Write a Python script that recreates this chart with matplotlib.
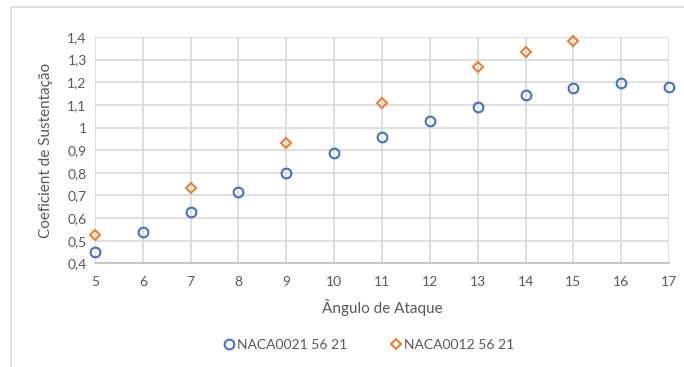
import matplotlib
matplotlib.use('agg')
import matplotlib.pyplot as plt
from matplotlib.patches import Rectangle
from matplotlib.ticker import FixedLocator

plt.rcParams['font.family'] = ['Lato', 'DejaVu Sans']

# Data
angles_0021 = [5, 6, 7, 8, 9, 10, 11, 12, 13, 14, 15, 16, 17]
cl_0021 = [0.448, 0.537, 0.627, 0.716, 0.801, 0.887, 0.959, 1.030, 1.089, 1.142, 1.176, 1.195, 1.179]

angles_0012 = [5, 7, 9, 11, 13, 14, 15]
cl_0012 = [0.527, 0.733, 0.930, 1.109, 1.269, 1.332, 1.381]

x_ticks = list(range(5, 18))
y_ticks = [0.4, 0.5, 0.6, 0.7, 0.8, 0.9, 1.0, 1.1, 1.2, 1.3, 1.4]
y_labels = ['0,4', '0,5', '0,6', '0,7', '0,8', '0,9', '1', '1,1', '1,2', '1,3', '1,4']

blue = '#4472C4'
orange = '#ED7D31'
text_gray = '#595959'
grid_gray = '#d9d9d9'

fig = plt.figure(figsize=(6.84, 3.67), dpi=100)
ax = fig.add_axes([95 / 684, 1 - 263.3 / 367, (669 - 95) / 684, (263.3 - 37) / 367])

# chart border (cut off on the right/bottom like the screenshot)
fig.patches.append(Rectangle((11 / 684, -0.05), 1.2, 1 - 7 / 367 + 0.05,
                             transform=fig.transFigure, fill=False,
                             edgecolor=grid_gray, linewidth=1.2))

ax.plot(angles_0021, cl_0021, linestyle='none', marker='o', markersize=7,
        markerfacecolor='none', markeredgecolor=blue, markeredgewidth=1.5,
        label='NACA0021 56 21', clip_on=False, zorder=3)
ax.plot(angles_0012, cl_0012, linestyle='none', marker='D', markersize=4.8,
        markerfacecolor='none', markeredgecolor=orange, markeredgewidth=1.5,
        label='NACA0012 56 21', clip_on=False, zorder=3)

ax.set_xlim(5, 17)
ax.set_ylim(0.4, 1.4)
ax.xaxis.set_major_locator(FixedLocator(x_ticks))
ax.set_yticks(y_ticks)
ax.set_yticklabels(y_labels)
ax.tick_params(axis='both', length=0, colors=text_gray, labelsize=10)
ax.tick_params(axis='x', pad=9)
ax.tick_params(axis='y', pad=6)

ax.grid(True, color=grid_gray, linewidth=1.2)
ax.set_axisbelow(True)
for side in ['top', 'right', 'left']:
    ax.spines[side].set_visible(False)
ax.spines['bottom'].set_color('#bfbfbf')
ax.spines['bottom'].set_linewidth(1.2)

ax.set_xlabel('Ângulo de Ataque', color=text_gray, fontsize=11, labelpad=8)
ax.set_ylabel('Coeficient de Sustentação', color=text_gray, fontsize=11, labelpad=10)

leg = fig.legend(loc='center', bbox_to_anchor=(369 / 684, 1 - 345 / 367), ncol=2,
                 frameon=False, fontsize=10, handletextpad=0.2, columnspacing=3.1,
                 handlelength=0.8)
for t in leg.get_texts():
    t.set_color(text_gray)

fig.savefig('out.png', dpi=100)
